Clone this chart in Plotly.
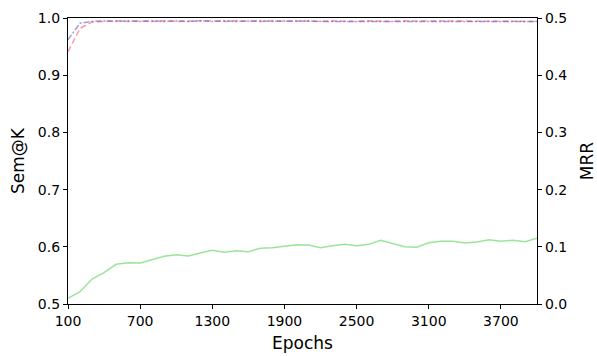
import plotly.graph_objects as go

epochs = list(range(100, 4001, 100))

sem_red = [0.941, 0.982, 0.993, 0.994, 0.995, 0.994, 0.995, 0.994, 0.995, 0.994,
           0.995, 0.995, 0.995, 0.994, 0.995, 0.994, 0.994, 0.995, 0.994, 0.995,
           0.994, 0.994, 0.995, 0.994, 0.994, 0.995, 0.994, 0.994, 0.995, 0.995,
           0.994, 0.994, 0.995, 0.994, 0.994, 0.995, 0.994, 0.994, 0.994, 0.994]
sem_blue = [0.962, 0.991, 0.994, 0.995, 0.994, 0.995, 0.994, 0.995, 0.994, 0.995,
            0.994, 0.995, 0.994, 0.995, 0.994, 0.995, 0.995, 0.994, 0.995, 0.994,
            0.995, 0.994, 0.994, 0.995, 0.994, 0.994, 0.995, 0.995, 0.994, 0.994,
            0.995, 0.994, 0.994, 0.995, 0.994, 0.994, 0.995, 0.994, 0.995, 0.994]
mrr = [0.010, 0.0215, 0.0437, 0.0548, 0.0694, 0.0722, 0.0717, 0.0769, 0.0834, 0.0862,
       0.0839, 0.0892, 0.0939, 0.0904, 0.0932, 0.0915, 0.0974, 0.0985, 0.1014, 0.1037,
       0.1031, 0.0985, 0.1020, 0.1043, 0.1020, 0.1043, 0.1113, 0.1060, 0.1002, 0.0991,
       0.1072, 0.1096, 0.1096, 0.1066, 0.1084, 0.1124, 0.1096, 0.1113, 0.1090, 0.1148]

xticks = list(range(100, 3701, 600))
yticks_left = [0.5, 0.6, 0.7, 0.8, 0.9, 1.0]
yticks_right = [0.0, 0.1, 0.2, 0.3, 0.4, 0.5]

fig = go.Figure()
fig.add_trace(go.Scatter(x=epochs, y=sem_red, mode="lines",
                         line=dict(color="rgba(255,90,90,0.6)", width=1.5, dash="6px,3px"),
                         yaxis="y", showlegend=False))
fig.add_trace(go.Scatter(x=epochs, y=sem_blue, mode="lines",
                         line=dict(color="rgba(90,90,200,0.6)", width=1.5, dash="6px,2px,2px,2px"),
                         yaxis="y", showlegend=False))
fig.add_trace(go.Scatter(x=epochs, y=mrr, mode="lines",
                         line=dict(color="rgba(120,220,120,0.75)", width=1.5),
                         yaxis="y2", showlegend=False))

font_family = "DejaVu Sans"
axis_common = dict(showgrid=False, zeroline=False, showline=True, linecolor="black",
                   linewidth=1.3, ticks="outside", ticklen=4, tickwidth=1, tickcolor="black",
                   automargin=False,
                   tickfont=dict(family=font_family, size=14, color="black"))

fig.update_layout(
    width=597, height=356,
    margin=dict(l=68, r=60, t=18, b=52),
    paper_bgcolor="white", plot_bgcolor="white",
    xaxis=dict(range=[100, 4000], tickvals=xticks, ticktext=[str(v) for v in xticks],
               mirror=True,
               title=dict(text="Epochs", font=dict(family=font_family, size=17, color="black"),
                          standoff=9),
               **axis_common),
    yaxis=dict(range=[0.5, 1.0], tickvals=yticks_left,
               ticktext=[f"{v:.1f}" for v in yticks_left],
               title=dict(text="Sem@K", font=dict(family=font_family, size=17, color="black"),
                          standoff=8),
               **axis_common),
    yaxis2=dict(range=[0.0, 0.5], tickvals=yticks_right,
                ticktext=[f"{v:.1f}" for v in yticks_right],
                overlaying="y", side="right",
                title=dict(text="MRR", font=dict(family=font_family, size=17, color="black"),
                           standoff=14),
                **axis_common),
)

fig.write_html("out.html")
